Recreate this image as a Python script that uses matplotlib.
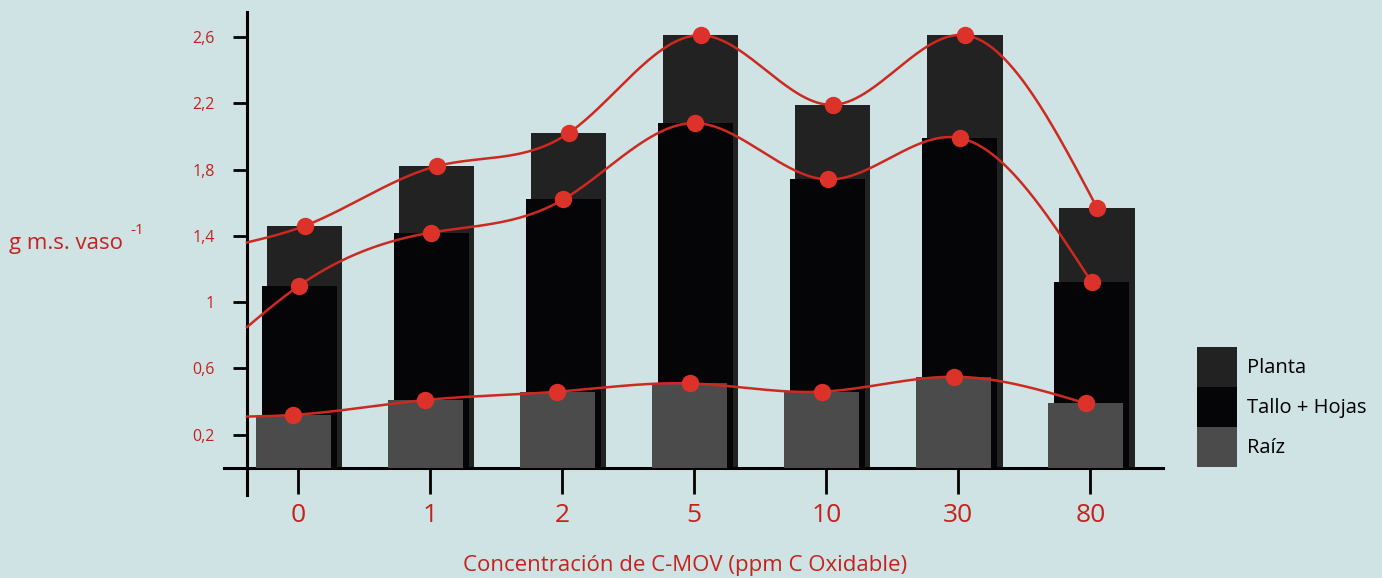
import numpy as np
import matplotlib
matplotlib.use("Agg")
import matplotlib.pyplot as plt

# Datos
categorias = ['0', '1', '2', '5', '10', '30', '80']
planta = [1.46, 1.82, 2.02, 2.61, 2.19, 2.61, 1.57]
tallo_hojas = [1.10, 1.42, 1.62, 2.08, 1.74, 1.99, 1.12]
raiz = [0.32, 0.41, 0.46, 0.51, 0.46, 0.55, 0.39]
# valor de cada curva donde corta el eje vertical
inicio_curva = {'planta': 1.36, 'tallo': 0.85, 'raiz': 0.31}
y_ticks = [0.2, 0.6, 1.0, 1.4, 1.8, 2.2, 2.6]
y_labels = ['0,2', '0,6', '1', '1,4', '1,8', '2,2', '2,6']

fondo = '#cfe2e4'
rojo_txt = '#c4231d'
rojo_linea = '#cc2a20'
rojo_punto = '#dd3229'
c_planta = '#222222'
c_tallo = '#050507'
c_raiz = '#4b4b4b'


def spline_natural(x, y, xs):
    # spline cúbico natural (sin scipy)
    x = np.asarray(x, float)
    y = np.asarray(y, float)
    n = len(x)
    h = np.diff(x)
    A = np.zeros((n, n))
    b = np.zeros(n)
    A[0, 0] = 1
    A[-1, -1] = 1
    for i in range(1, n - 1):
        A[i, i - 1] = h[i - 1]
        A[i, i] = 2 * (h[i - 1] + h[i])
        A[i, i + 1] = h[i]
        b[i] = 6 * ((y[i + 1] - y[i]) / h[i] - (y[i] - y[i - 1]) / h[i - 1])
    M = np.linalg.solve(A, b)
    i = np.clip(np.searchsorted(x, xs) - 1, 0, n - 2)
    hi = h[i]
    return (M[i] * (x[i + 1] - xs) ** 3 / (6 * hi)
            + M[i + 1] * (xs - x[i]) ** 3 / (6 * hi)
            + (y[i] / hi - M[i] * hi / 6) * (x[i + 1] - xs)
            + (y[i + 1] / hi - M[i + 1] * hi / 6) * (xs - x[i]))


plt.rcParams['font.family'] = ['Open Sans', 'DejaVu Sans']

fig = plt.figure(figsize=(13.82, 5.78), dpi=100)
fig.patch.set_facecolor(fondo)
W, H = 1382, 578
ax = fig.add_axes([224 / W, 1 - 495 / H, (1163 - 224) / W, (495 - 12) / H])
ax.set_facecolor(fondo)

x = np.arange(len(categorias))
ancho = 0.57
desp = {'planta': 0.05, 'tallo': 0.01, 'raiz': -0.035}

ax.bar(x + desp['planta'], planta, ancho, color=c_planta, label='Planta', zorder=2)
ax.bar(x + desp['tallo'], tallo_hojas, ancho, color=c_tallo, label='Tallo + Hojas', zorder=3)
ax.bar(x + desp['raiz'], raiz, ancho, color=c_raiz, label='Raíz', zorder=4)

x_eje = -0.386
for clave, serie in [('planta', planta), ('tallo', tallo_hojas), ('raiz', raiz)]:
    xp = x + desp[clave]
    xk = np.concatenate([[x_eje], xp])
    yk = np.concatenate([[inicio_curva[clave]], serie])
    xs = np.linspace(x_eje, xp[-1], 400)
    ax.plot(xs, spline_natural(xk, yk, xs), color=rojo_linea, lw=1.8, zorder=5)
    ax.plot(xp, serie, 'o', color=rojo_punto, ms=11.5, zorder=6)

ax.set_xlim(-0.56, 6.55)
ax.set_ylim(-0.163, 2.75)

for s in ['top', 'right']:
    ax.spines[s].set_visible(False)
ax.spines['bottom'].set_position(('data', 0))
ax.spines['left'].set_position(('data', x_eje))
ax.spines['bottom'].set_linewidth(2.2)
ax.spines['left'].set_linewidth(2.2)

ax.set_xticks(x)
ax.set_xticklabels(categorias)
ax.set_yticks(y_ticks)
ax.set_yticklabels(y_labels)
ax.tick_params(axis='x', direction='out', length=19, width=2, pad=6,
               labelsize=19, labelcolor=rojo_txt)
ax.tick_params(axis='y', direction='out', length=10, width=2, pad=13,
               labelsize=11.5, labelcolor=rojo_txt)

fig.text(463 / W, 1 - 566 / H, 'Concentración de C-MOV (ppm C Oxidable)',
         color=rojo_txt, fontsize=16, ha='left', va='center')
fig.text(9 / W, 1 - 244 / H, 'g m.s. vaso', color=rojo_txt, fontsize=16,
         ha='left', va='center')
fig.text(130 / W, 1 - 231 / H, '-1', color=rojo_txt, fontsize=11,
         ha='left', va='center')

fig.legend(loc='upper left', bbox_to_anchor=(1197 / W, 1 - 347 / H),
           frameon=False, fontsize=14.5, borderpad=0, borderaxespad=0,
           handlelength=1.99, handleheight=2.68, labelspacing=0,
           handletextpad=0.5)

fig.savefig('out.png', dpi=100, facecolor=fondo)
